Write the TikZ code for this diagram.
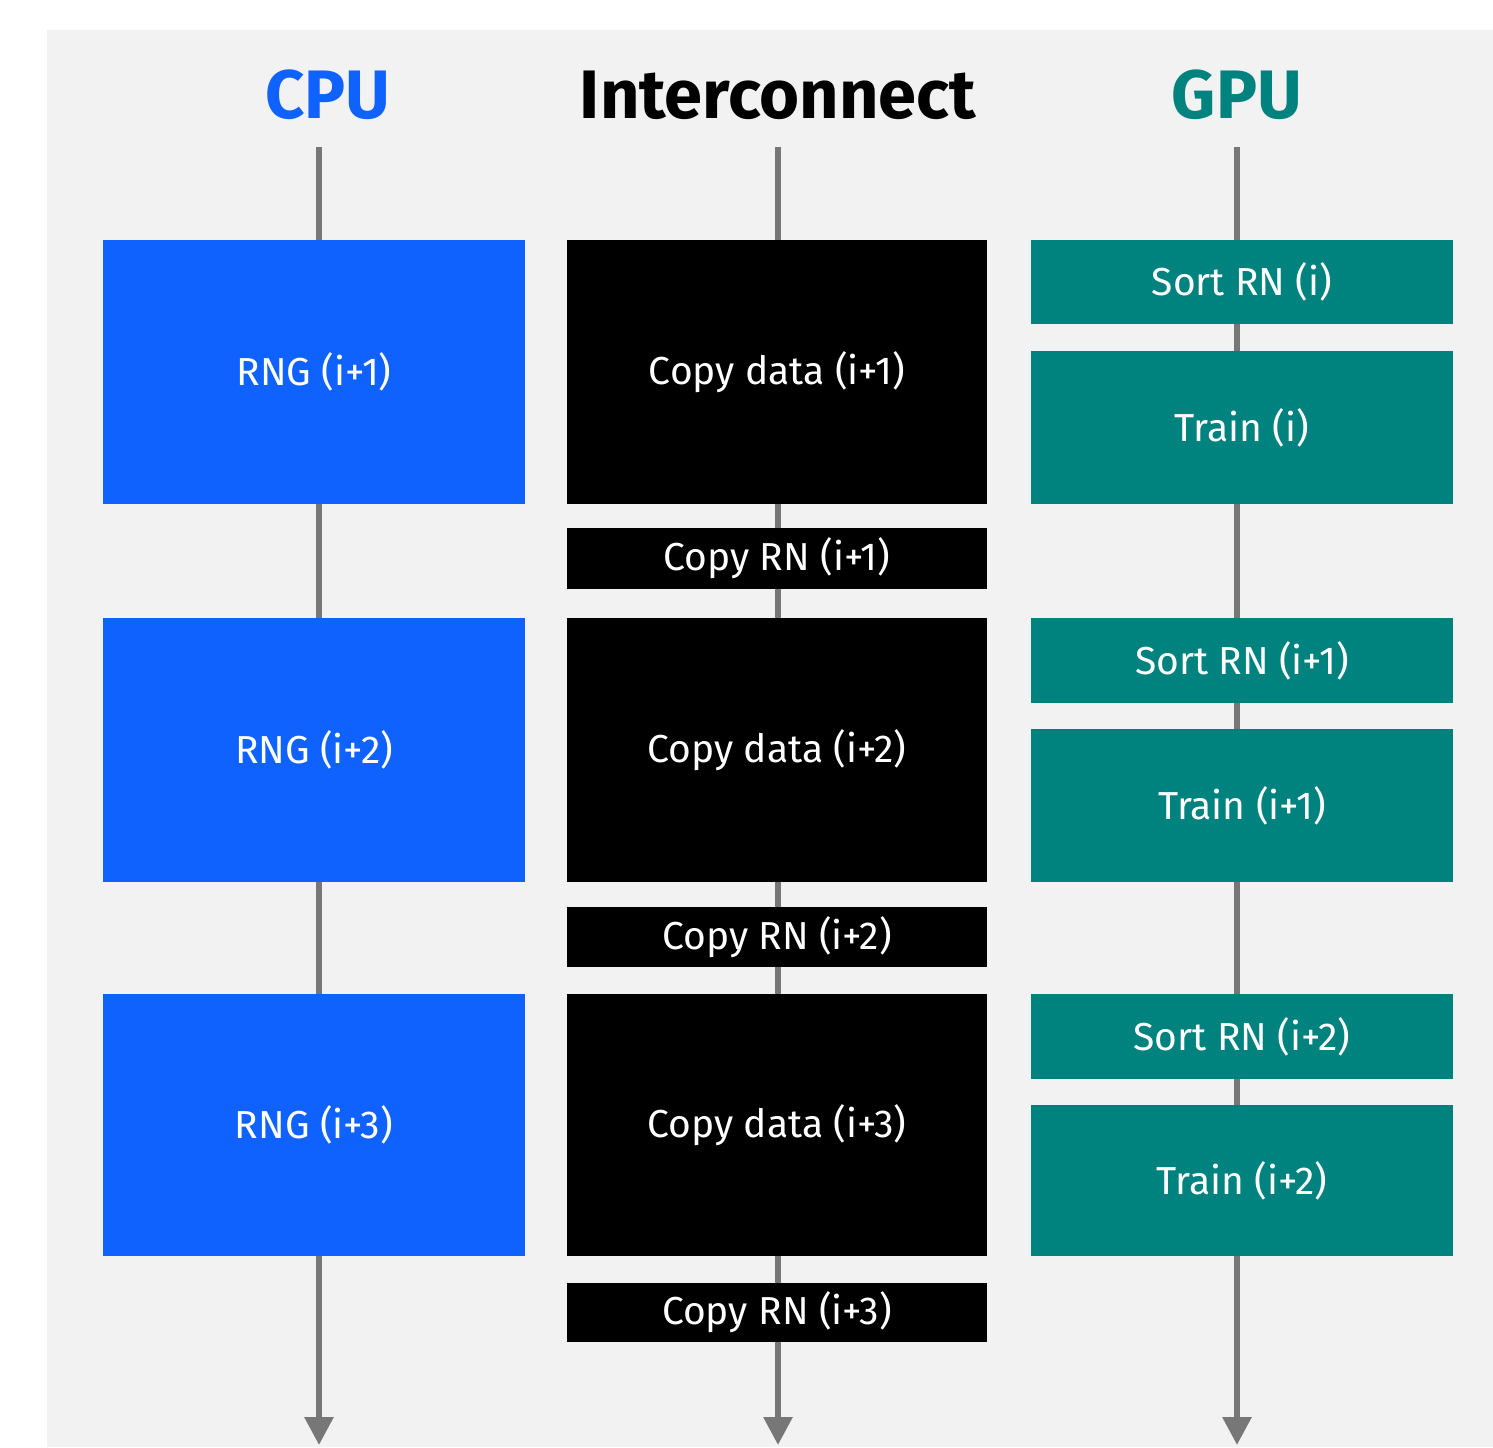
\documentclass[tikz,border=0pt]{standalone}
\usepackage{fontspec}
\setmainfont{Fira Sans}
\usetikzlibrary{arrows.meta}
\definecolor{cpublue}{HTML}{0F62FE}
\definecolor{gputeal}{HTML}{00827E}
\definecolor{bggray}{HTML}{F2F2F2}
\definecolor{linegray}{HTML}{777777}
\begin{document}
\begin{tikzpicture}[x=0.5pt,y=-0.5pt,
  box/.style={rectangle, inner sep=0pt, minimum width=211pt, text=white, font=\fontsize{19.5}{24}\selectfont},
  cpubox/.style={box, fill=cpublue},
  icbox/.style={box, fill=black, minimum width=210pt},
  gpubox/.style={box, fill=gputeal},
  coltitle/.style={font=\fontsize{34.3}{40}\selectfont\bfseries, anchor=base},
  timeline/.style={draw=linegray, line width=3pt, -{Triangle[length=14pt,width=14pt]}}]
\useasboundingbox (0,0) rectangle (1493,1447);
\fill[white] (0,0) rectangle (1493,1447);
\fill[bggray] (47,30) rectangle (1493,1447);
% titles
\node[coltitle, text=cpublue] (tcpu) at (328,118) {CPU};
\node[coltitle, text=black] (tic) at (778,118) {Interconnect};
\node[coltitle, text=gputeal] (tgpu) at (1237,118) {GPU};
% timelines
\coordinate (cputop) at (319,147);
\coordinate (cpubot) at (319,1445);
\coordinate (ictop) at (778,147);
\coordinate (icbot) at (778,1445);
\coordinate (gputop) at (1237,147);
\coordinate (gpubot) at (1237,1445);
\draw[timeline] (cputop) -- (cpubot);
\draw[timeline] (ictop) -- (icbot);
\draw[timeline] (gputop) -- (gpubot);
% CPU
\node[cpubox, minimum height=132pt] (rng1) at (314,372) {RNG (i+1)};
\node[cpubox, minimum height=132pt] (rng2) at (314,750) {RNG (i+2)};
\node[cpubox, minimum height=131pt] (rng3) at (314,1125) {RNG (i+3)};
% Interconnect
\node[icbox, minimum height=132pt] (cd1) at (777,372) {Copy data (i+1)};
\node[icbox, minimum height=30.5pt] (cr1) at (777,558.5) {Copy RN (i+1)};
\node[icbox, minimum height=132pt] (cd2) at (777,750) {Copy data (i+2)};
\node[icbox, minimum height=30pt] (cr2) at (777,937) {Copy RN (i+2)};
\node[icbox, minimum height=131pt] (cd3) at (777,1125) {Copy data (i+3)};
\node[icbox, minimum height=29.5pt] (cr3) at (777,1312.5) {Copy RN (i+3)};
% GPU
\node[gpubox, minimum height=42pt] (s1) at (1242,282) {Sort RN (i)};
\node[gpubox, minimum height=76.5pt] (t1) at (1242,427.5) {Train (i)};
\node[gpubox, minimum height=42.5pt] (s2) at (1242,660.5) {Sort RN (i+1)};
\node[gpubox, minimum height=76.5pt] (t2) at (1242,805.5) {Train (i+1)};
\node[gpubox, minimum height=42.5pt] (s3) at (1242,1036.5) {Sort RN (i+2)};
\node[gpubox, minimum height=75.5pt] (t3) at (1242,1180.5) {Train (i+2)};
\end{tikzpicture}
\end{document}
